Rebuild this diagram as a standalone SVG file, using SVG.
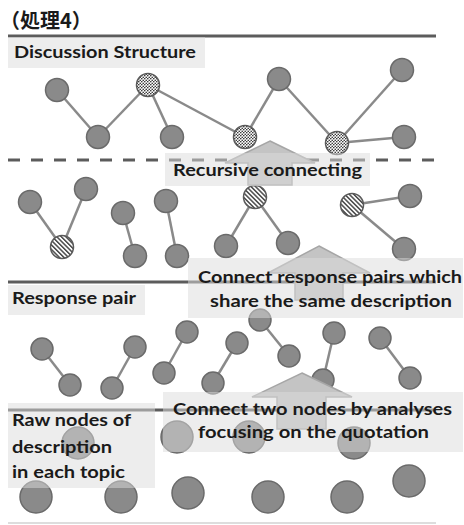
<svg xmlns="http://www.w3.org/2000/svg" width="464" height="525" viewBox="0 0 464 525">
  <style>
    .rule { stroke: #5c5c5c; stroke-width: 3; fill: none; }
    .dash { stroke: #5c5c5c; stroke-width: 3; stroke-dasharray: 12 11; fill: none; }
    .edge { stroke: #8a8a8a; stroke-width: 2.5; fill: none; }
    .node { fill: #8a8a8a; stroke: #6a6a6a; stroke-width: 1.5; }
    .dot { fill: url(#checker); stroke: #5a5a5a; stroke-width: 1.5; }
    .hatch { fill: url(#stripes); stroke: #5a5a5a; stroke-width: 1.5; }
    .arrow { fill: #c4c4c4; stroke: #a6a6a6; stroke-width: 1.5; }
    .box { fill: #dcdcdc; fill-opacity: 0.5; }
    .label { font-family: Lato, "Liberation Sans", sans-serif; font-weight: 700; font-size: 17px; fill: #1a1a1a; }
    .title { font-family: "Noto Sans CJK JP", "Noto Sans CJK SC", sans-serif; font-weight: 700; font-size: 20px; fill: #1a1a1a; }
  </style>
  <defs>
    <!-- fine dot grid for merged discussion nodes -->
    <pattern id="checker" width="3" height="3" patternUnits="userSpaceOnUse">
      <rect width="3" height="3" fill="#ffffff"/>
      <circle cx="0.75" cy="0.75" r="0.8" fill="#2e2e2e"/>
      <circle cx="2.25" cy="2.25" r="0.8" fill="#2e2e2e"/>
    </pattern>
    <!-- diagonal hatching for group roots -->
    <pattern id="stripes" width="3.2" height="3.2" patternUnits="userSpaceOnUse" patternTransform="rotate(-45)">
      <rect width="3.2" height="3.2" fill="#ffffff"/>
      <rect width="1.5" height="3.2" fill="#4a4a4a"/>
    </pattern>
  </defs>

  <rect width="464" height="525" fill="#ffffff"/>

  <text class="title" x="0" y="28">（処理4）</text>

  <!-- layer separators -->
  <g id="separators">
    <line class="rule" x1="8" y1="36" x2="436" y2="36"/>
    <line class="dash" x1="8" y1="160" x2="436" y2="160"/>
    <line class="rule" x1="8" y1="282" x2="436" y2="282"/>
    <line class="rule" x1="8" y1="410" x2="436" y2="410"/>
    <line x1="8" y1="523" x2="436" y2="523" stroke="#dddddd" stroke-width="2"/>
  </g>

  <!-- connectors -->
  <g id="connectors">
    <!-- discussion structure -->
    <line class="edge" x1="57" y1="90" x2="98" y2="137"/>
    <line class="edge" x1="98" y1="137" x2="148" y2="85"/>
    <line class="edge" x1="148" y1="85" x2="172" y2="137"/>
    <line class="edge" x1="148" y1="85" x2="245" y2="137"/>
    <line class="edge" x1="245" y1="137" x2="279" y2="79"/>
    <line class="edge" x1="279" y1="79" x2="337" y2="143"/>
    <line class="edge" x1="337" y1="143" x2="402" y2="70"/>
    <line class="edge" x1="337" y1="143" x2="404" y2="137"/>
    <!-- recursive groups -->
    <line class="edge" x1="30" y1="202" x2="62" y2="247"/>
    <line class="edge" x1="62" y1="247" x2="86" y2="189"/>
    <line class="edge" x1="123" y1="213" x2="135" y2="256"/>
    <line class="edge" x1="166" y1="201" x2="177" y2="256"/>
    <line class="edge" x1="255" y1="197" x2="226" y2="246"/>
    <line class="edge" x1="255" y1="197" x2="288" y2="243"/>
    <line class="edge" x1="352" y1="205" x2="410" y2="196"/>
    <line class="edge" x1="352" y1="205" x2="404" y2="249"/>
    <!-- response pairs -->
    <line class="edge" x1="42" y1="349" x2="70" y2="385"/>
    <line class="edge" x1="112" y1="388" x2="135" y2="347"/>
    <line class="edge" x1="164" y1="373" x2="187" y2="332"/>
    <line class="edge" x1="213" y1="383" x2="237" y2="343"/>
    <line class="edge" x1="260" y1="320" x2="289" y2="356"/>
    <line class="edge" x1="323" y1="380" x2="334" y2="333"/>
    <line class="edge" x1="380" y1="338" x2="410" y2="378"/>
  </g>

  <!-- discussion structure nodes -->
  <g id="n-ds-1"><circle class="node" cx="57" cy="90" r="11.5"/></g>
  <g id="n-ds-2"><circle class="node" cx="98" cy="137" r="11.5"/></g>
  <g id="n-ds-3"><circle class="dot" cx="148" cy="85" r="11.5"/></g>
  <g id="n-ds-4"><circle class="node" cx="172" cy="137" r="11.5"/></g>
  <g id="n-ds-5"><circle class="dot" cx="245" cy="137" r="11.5"/></g>
  <g id="n-ds-6"><circle class="node" cx="279" cy="79" r="11.5"/></g>
  <g id="n-ds-7"><circle class="dot" cx="337" cy="143" r="11.5"/></g>
  <g id="n-ds-8"><circle class="node" cx="402" cy="70" r="11.5"/></g>
  <g id="n-ds-9"><circle class="node" cx="404" cy="137" r="11.5"/></g>

  <!-- recursive group nodes -->
  <g id="n-rc-1"><circle class="node" cx="30" cy="202" r="11.5"/></g>
  <g id="n-rc-2"><circle class="node" cx="86" cy="189" r="11.5"/></g>
  <g id="n-rc-3"><circle class="hatch" cx="62" cy="247" r="11.5"/></g>
  <g id="n-rc-4"><circle class="node" cx="123" cy="213" r="11.5"/></g>
  <g id="n-rc-5"><circle class="node" cx="135" cy="256" r="11.5"/></g>
  <g id="n-rc-6"><circle class="node" cx="166" cy="201" r="11.5"/></g>
  <g id="n-rc-7"><circle class="node" cx="177" cy="256" r="11.5"/></g>
  <g id="n-rc-8"><circle class="node" cx="226" cy="246" r="11.5"/></g>
  <g id="n-rc-9"><circle class="hatch" cx="255" cy="197" r="11.5"/></g>
  <g id="n-rc-10"><circle class="node" cx="288" cy="243" r="11.5"/></g>
  <g id="n-rc-11"><circle class="hatch" cx="352" cy="205" r="11.5"/></g>
  <g id="n-rc-12"><circle class="node" cx="410" cy="196" r="11.5"/></g>
  <g id="n-rc-13"><circle class="node" cx="404" cy="249" r="11.5"/></g>

  <!-- response pair nodes -->
  <g id="n-rp-1"><circle class="node" cx="42" cy="349" r="11"/></g>
  <g id="n-rp-2"><circle class="node" cx="70" cy="385" r="11"/></g>
  <g id="n-rp-3"><circle class="node" cx="112" cy="388" r="11"/></g>
  <g id="n-rp-4"><circle class="node" cx="135" cy="347" r="11"/></g>
  <g id="n-rp-5"><circle class="node" cx="164" cy="373" r="11"/></g>
  <g id="n-rp-6"><circle class="node" cx="187" cy="332" r="11"/></g>
  <g id="n-rp-7"><circle class="node" cx="213" cy="383" r="11"/></g>
  <g id="n-rp-8"><circle class="node" cx="237" cy="343" r="11"/></g>
  <g id="n-rp-9"><circle class="node" cx="260" cy="320" r="11"/></g>
  <g id="n-rp-10"><circle class="node" cx="289" cy="356" r="11"/></g>
  <g id="n-rp-11"><circle class="node" cx="334" cy="333" r="11"/></g>
  <g id="n-rp-12"><circle class="node" cx="323" cy="380" r="11"/></g>
  <g id="n-rp-13"><circle class="node" cx="380" cy="338" r="11"/></g>
  <g id="n-rp-14"><circle class="node" cx="410" cy="378" r="11"/></g>

  <!-- raw description nodes -->
  <g id="n-raw-1"><circle class="node" cx="78" cy="443" r="16"/></g>
  <g id="n-raw-2"><circle class="node" cx="177" cy="437" r="16"/></g>
  <g id="n-raw-3"><circle class="node" cx="249" cy="437" r="16"/></g>
  <g id="n-raw-4"><circle class="node" cx="354" cy="443" r="16"/></g>
  <g id="n-raw-5"><circle class="node" cx="36" cy="497" r="16"/></g>
  <g id="n-raw-6"><circle class="node" cx="121" cy="497" r="16"/></g>
  <g id="n-raw-7"><circle class="node" cx="188" cy="493" r="16"/></g>
  <g id="n-raw-8"><circle class="node" cx="268" cy="497" r="16"/></g>
  <g id="n-raw-9"><circle class="node" cx="347" cy="497" r="16"/></g>
  <g id="n-raw-10"><circle class="node" cx="409" cy="481" r="16"/></g>

  <!-- step arrows -->
  <g id="arrows">
    <path class="arrow" d="M270,141 L315,163 L292,163 L292,185 L248,185 L248,163 L225,163 Z"/>
    <path class="arrow" d="M319,246 L370,273 L343,273 L343,300 L295,300 L295,273 L268,273 Z"/>
    <path class="arrow" d="M302,373 L352,397 L326,397 L326,429 L277,429 L277,397 L252,397 Z"/>
  </g>

  <!-- label panels -->
  <g id="label-discussion">
    <rect class="box" x="8" y="37" width="197" height="31"/>
    <text class="label" x="14" y="58" textLength="182" lengthAdjust="spacingAndGlyphs">Discussion Structure</text>
  </g>
  <g id="label-recursive">
    <rect class="box" x="165" y="153" width="205" height="33"/>
    <text class="label" x="173" y="176" textLength="189" lengthAdjust="spacingAndGlyphs">Recursive connecting</text>
  </g>
  <g id="label-response">
    <rect class="box" x="8" y="285" width="137" height="30"/>
    <text class="label" x="12" y="304" textLength="124" lengthAdjust="spacingAndGlyphs">Response pair</text>
  </g>
  <g id="label-share">
    <rect class="box" x="188" y="258" width="275" height="60"/>
    <text class="label" x="198" y="283" textLength="264" lengthAdjust="spacingAndGlyphs">Connect response pairs which</text>
    <text class="label" x="210" y="307" textLength="242" lengthAdjust="spacingAndGlyphs">share the same description</text>
  </g>
  <g id="label-raw">
    <rect class="box" x="8" y="403" width="147" height="85"/>
    <text class="label" x="12" y="426" textLength="119" lengthAdjust="spacingAndGlyphs">Raw nodes of</text>
    <text class="label" x="12" y="453" textLength="100" lengthAdjust="spacingAndGlyphs">description</text>
    <text class="label" x="12" y="478" textLength="113" lengthAdjust="spacingAndGlyphs">in each topic</text>
  </g>
  <g id="label-quotation">
    <rect class="box" x="163" y="392" width="300" height="60"/>
    <text class="label" x="173" y="415" textLength="279" lengthAdjust="spacingAndGlyphs">Connect two nodes by analyses</text>
    <text class="label" x="198" y="438" textLength="231" lengthAdjust="spacingAndGlyphs">focusing on the quotation</text>
  </g>
</svg>
